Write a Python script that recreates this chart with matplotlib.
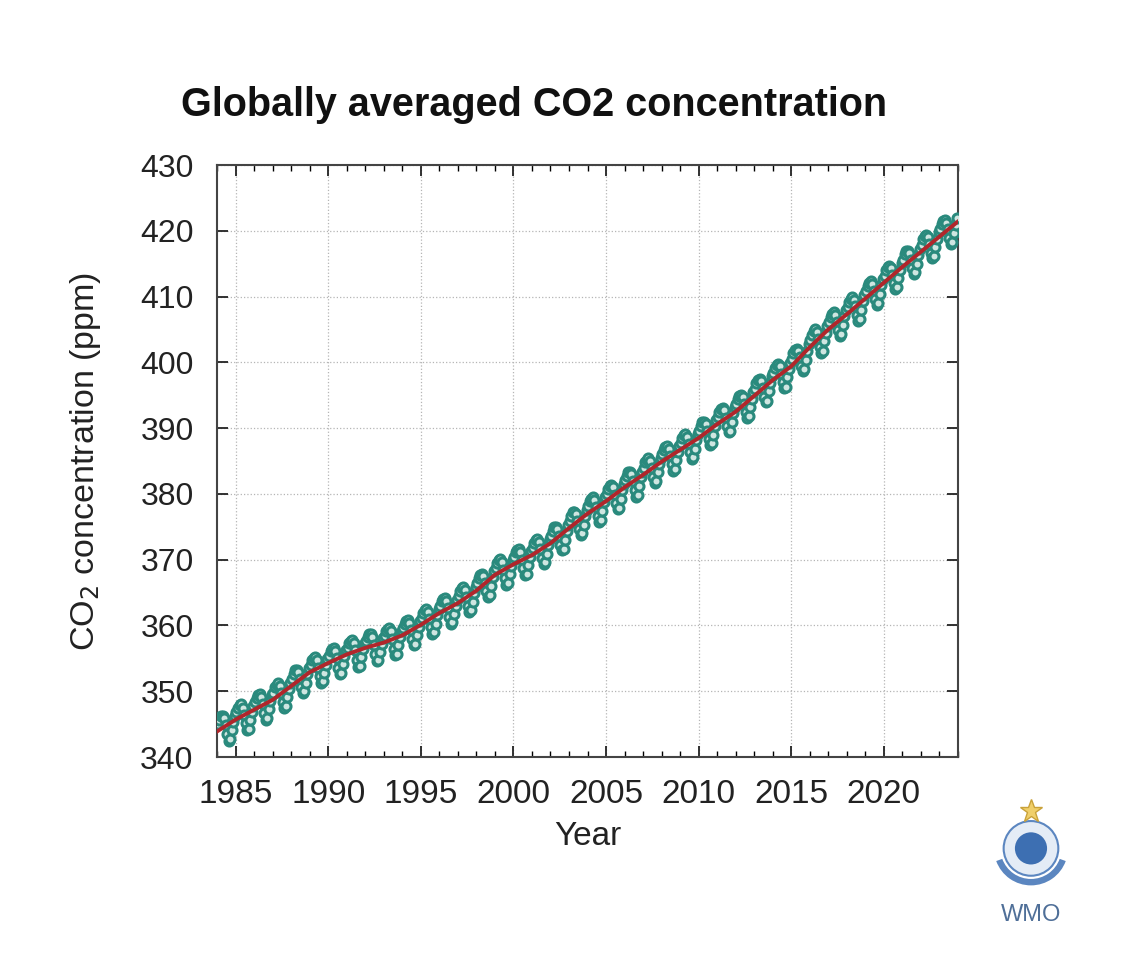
import numpy as np
import matplotlib
matplotlib.use('Agg')
import matplotlib.pyplot as plt
from matplotlib.patches import Circle, Wedge

plt.rcParams['font.family'] = ['Liberation Sans', 'DejaVu Sans']

"""
Data read off the chart
"""
years = list(range(1984, 2024))

# monthly globally averaged CO2 (ppm), one row per year, Jan..Dec
monthly_ppm = [
    [345.0, 345.7, 346.2, 346.3, 345.9, 344.8, 343.5, 342.5, 342.8, 344.1, 345.4, 346.3],  # 1984
    [346.8, 347.5, 347.9, 348.0, 347.5, 346.4, 345.1, 344.1, 344.3, 345.6, 346.8, 347.7],
    [348.3, 349.0, 349.4, 349.6, 349.1, 348.0, 346.7, 345.7, 345.9, 347.3, 348.5, 349.4],
    [349.8, 350.6, 351.0, 351.2, 350.8, 349.7, 348.4, 347.5, 347.7, 349.1, 350.4, 351.3],
    [351.9, 352.7, 353.2, 353.3, 352.9, 351.9, 350.6, 349.7, 350.0, 351.3, 352.6, 353.6],
    [354.0, 354.7, 355.1, 355.2, 354.7, 353.6, 352.3, 351.3, 351.5, 352.8, 354.0, 354.9],
    [355.4, 356.1, 356.5, 356.6, 356.1, 355.0, 353.6, 352.6, 352.8, 354.1, 355.3, 356.2],  # 1990
    [356.6, 357.3, 357.7, 357.8, 357.3, 356.2, 354.7, 353.7, 353.9, 355.2, 356.4, 357.3],
    [357.6, 358.3, 358.7, 358.7, 358.2, 357.1, 355.6, 354.6, 354.8, 356.0, 357.2, 358.1],
    [358.4, 359.1, 359.5, 359.6, 359.1, 358.0, 356.5, 355.5, 355.7, 357.0, 358.2, 359.1],
    [359.6, 360.3, 360.7, 360.9, 360.4, 359.3, 358.0, 357.0, 357.2, 358.6, 359.8, 360.7],
    [361.2, 361.9, 362.4, 362.5, 362.1, 361.0, 359.7, 358.7, 359.0, 360.3, 361.6, 362.5],  # 1995
    [363.0, 363.7, 364.1, 364.2, 363.7, 362.6, 361.3, 360.3, 360.5, 361.8, 363.0, 363.9],
    [364.5, 365.2, 365.7, 365.8, 365.4, 364.3, 363.0, 362.0, 362.3, 363.6, 364.9, 365.8],
    [366.4, 367.2, 367.7, 367.9, 367.5, 366.5, 365.2, 364.3, 364.6, 366.0, 367.3, 368.3],
    [368.8, 369.5, 369.9, 370.1, 369.6, 368.5, 367.2, 366.2, 366.4, 367.8, 369.0, 369.9],
    [370.4, 371.1, 371.5, 371.6, 371.1, 370.0, 368.7, 367.7, 367.9, 369.2, 370.4, 371.3],  # 2000
    [371.8, 372.5, 373.0, 373.1, 372.7, 371.6, 370.3, 369.3, 369.6, 370.9, 372.2, 373.1],
    [373.6, 374.4, 374.9, 375.0, 374.6, 373.6, 372.3, 371.4, 371.7, 373.0, 374.3, 375.3],
    [375.9, 376.7, 377.2, 377.3, 376.9, 375.9, 374.6, 373.7, 374.0, 375.3, 376.6, 377.6],
    [378.1, 378.9, 379.3, 379.5, 379.1, 378.0, 376.7, 375.8, 376.0, 377.4, 378.7, 379.6],
    [380.0, 380.8, 381.2, 381.4, 381.0, 379.9, 378.6, 377.7, 377.9, 379.3, 380.6, 381.5],  # 2005
    [382.1, 382.8, 383.3, 383.4, 383.0, 381.9, 380.6, 379.6, 379.9, 381.2, 382.5, 383.4],
    [384.0, 384.8, 385.2, 385.4, 385.0, 383.9, 382.6, 381.7, 381.9, 383.3, 384.6, 385.5],
    [386.0, 386.7, 387.2, 387.3, 386.9, 385.8, 384.5, 383.5, 383.8, 385.1, 386.4, 387.3],
    [387.8, 388.5, 389.0, 389.1, 388.7, 387.6, 386.3, 385.3, 385.6, 386.9, 388.2, 389.1],
    [389.6, 390.4, 390.9, 391.0, 390.6, 389.6, 388.3, 387.4, 387.7, 389.0, 390.3, 391.3],  # 2010
    [391.7, 392.5, 392.9, 393.1, 392.7, 391.6, 390.3, 389.4, 389.6, 391.0, 392.3, 393.2],
    [393.6, 394.4, 394.9, 395.1, 394.7, 393.7, 392.4, 391.5, 391.8, 393.2, 394.5, 395.5],
    [396.0, 396.8, 397.3, 397.5, 397.1, 396.1, 394.8, 393.9, 394.2, 395.6, 396.9, 397.9],
    [398.4, 399.2, 399.6, 399.8, 399.4, 398.3, 397.0, 396.1, 396.3, 397.7, 399.0, 399.9],
    [400.5, 401.4, 401.9, 402.1, 401.8, 400.8, 399.5, 398.7, 399.0, 400.4, 401.8, 402.8],  # 2015
    [403.4, 404.2, 404.7, 405.0, 404.6, 403.6, 402.3, 401.4, 401.7, 403.2, 404.5, 405.5],
    [406.1, 406.9, 407.4, 407.6, 407.2, 406.2, 404.9, 404.0, 404.3, 405.7, 407.0, 408.0],
    [408.4, 409.2, 409.7, 409.9, 409.5, 408.5, 407.2, 406.3, 406.6, 408.0, 409.3, 410.3],
    [410.8, 411.6, 412.1, 412.3, 411.9, 410.9, 409.6, 408.7, 409.0, 410.4, 411.7, 412.7],
    [413.2, 414.0, 414.5, 414.7, 414.3, 413.3, 412.0, 411.1, 411.4, 412.8, 414.1, 415.1],  # 2020
    [415.6, 416.4, 416.9, 417.0, 416.6, 415.6, 414.3, 413.4, 413.7, 415.0, 416.3, 417.3],
    [417.9, 418.7, 419.2, 419.4, 419.0, 418.0, 416.7, 415.8, 416.1, 417.5, 418.8, 419.8],
    [420.2, 421.0, 421.5, 421.6, 421.2, 420.2, 418.9, 418.0, 418.3, 419.6, 420.9, 421.9],  # 2023
]

# de-seasonalised trend (ppm) at the start of each year
trend_years = list(range(1984, 2025))
trend_ppm = [343.9, 345.7, 347.2, 348.7, 350.8, 352.9, 354.3, 355.6, 356.6, 357.4,
             358.5, 360.1, 361.9, 363.4, 365.3, 367.7, 369.3, 370.7, 372.5, 374.8,
             377.0, 378.9, 381.0, 382.9, 384.9, 386.7, 388.5, 390.6, 392.5, 394.9,
             397.3, 399.4, 402.3, 405.0, 407.3, 409.7, 412.1, 414.5, 416.8, 419.1,
             421.4]

x_ticks = [1985, 1990, 1995, 2000, 2005, 2010, 2015, 2020]
y_ticks = list(range(340, 431, 10))

# monthly time axis (mid-month)
t_month = np.array([y + (m + 0.5) / 12 for y in years for m in range(12)])
co2 = np.array(monthly_ppm).ravel()

"""
Figure
"""
teal = '#2a8a7d'
red = '#b0262b'

fig = plt.figure(figsize=(11.43, 9.65), dpi=100)
ax = fig.add_axes([0.190, 0.2155, 0.648, 0.6135])

ax.plot(t_month, co2, linestyle='none', marker='o', ms=6.5, mew=2.2,
        mec=teal, mfc='#cfe6e1', zorder=3)
ax.plot(trend_years, trend_ppm, color=red, lw=2.8, zorder=4)

ax.set_xlim(1984, 2024)
ax.set_ylim(340, 430)
ax.set_xticks(x_ticks)
ax.set_xticks(range(1984, 2025), minor=True)
ax.set_yticks(y_ticks)

ax.grid(True, which='major', linestyle=':', linewidth=0.9, color='#b5b5b5')
ax.tick_params(which='major', direction='in', length=8, width=1.3,
               top=True, right=True, colors='#222222')
ax.tick_params(axis='x', which='major', labelsize=24, pad=16)
ax.tick_params(axis='y', which='major', labelsize=23, pad=17)
ax.tick_params(which='minor', direction='in', length=4, width=1.0,
               top=True, right=False, left=False)
for s in ax.spines.values():
    s.set_linewidth(1.5)
    s.set_color('#444444')

ax.set_xlabel('Year', fontsize=24, labelpad=8, color='#222222')
ax.set_ylabel('CO$_2$ concentration (ppm)', fontsize=24.5, labelpad=27,
              color='#222222')

fig.text(0.467, 0.891, 'Globally averaged CO2 concentration', ha='center',
         va='center', fontsize=28.5, fontweight='bold', color='#111111')

# WMO emblem, roughly sketched
lax = fig.add_axes([0.866, 0.075, 0.072, 0.1])
lax.set_xlim(-1, 1)
lax.set_ylim(-1.1, 1.3)
lax.set_aspect('equal')
lax.axis('off')
lax.add_patch(Wedge((0, 0), 0.92, 200, 340, width=0.16, facecolor='#5b86c0',
                    edgecolor='none'))
lax.add_patch(Circle((0, 0), 0.68, facecolor='#e4ecf6', edgecolor='#5b86c0', lw=1.5))
lax.add_patch(Circle((0, 0), 0.40, facecolor='#3d6fb2', edgecolor='none'))
lax.plot([0], [0.92], marker='*', ms=17, color='#f0cf6a', mec='#c9a23a')
fig.text(0.902, 0.052, 'WMO', ha='center', va='center', fontsize=17,
         color='#4f6f98')

fig.savefig('out.png', dpi=100)
